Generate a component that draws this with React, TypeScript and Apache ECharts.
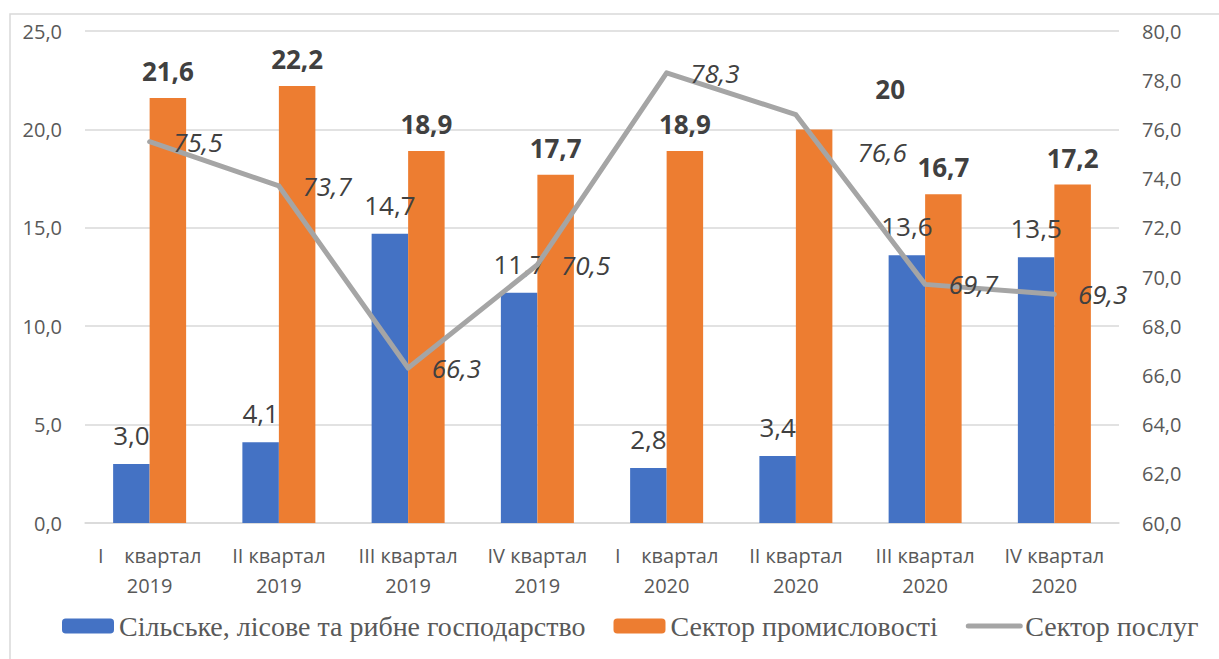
import React, { useEffect, useRef } from "react";
import * as echarts from "echarts";

const categories = [
  "I    квартал\n2019",
  "II квартал\n2019",
  "III квартал\n2019",
  "IV квартал\n2019",
  "I    квартал\n2020",
  "II квартал\n2020",
  "III квартал\n2020",
  "IV квартал\n2020",
];
const agriculture = [3.0, 4.1, 14.7, 11.7, 2.8, 3.4, 13.6, 13.5];
const industry = [21.6, 22.2, 18.9, 17.7, 18.9, 20, 16.7, 17.2];
const services = [75.5, 73.7, 66.3, 70.5, 78.3, 76.6, 69.7, 69.3];
const leftTicks = { min: 0, max: 25, interval: 5 };
const rightTicks = { min: 60, max: 80, interval: 2 };

const seriesNames = [
  "Сільське, лісове та рибне господарство",
  "Сектор промисловості",
  "Сектор послуг",
];

const SANS = "'Open Sans', 'Noto Sans', sans-serif";
const comma = (v: number, d?: number) =>
  (d === undefined ? String(v) : v.toFixed(d)).replace(".", ",");

export default function App() {
  const ref = useRef<HTMLDivElement>(null);
  useEffect(() => {
    if (!ref.current) return;
    const chart = echarts.init(ref.current, null, { renderer: "svg" });
    const labelColor = "#404040";
    chart.setOption({
      animation: false,
      backgroundColor: "#ffffff",
      graphic: [
        {
          type: "rect",
          shape: { x: 10, y: 14, width: 1300, height: 700 },
          style: { fill: "none", stroke: "#D9D9D9", lineWidth: 1.5 },
          silent: true,
        },
      ],
      grid: { left: 85, right: 100, top: 31, bottom: 136 },
      legend: {
        left: 57,
        top: 607,
        itemWidth: 52,
        itemHeight: 15,
        itemGap: 28,
        data: [
          { name: seriesNames[0] },
          { name: seriesNames[1] },
          {
            name: seriesNames[2],
            itemStyle: { opacity: 0 },
            lineStyle: { width: 5, color: "#A5A5A5" },
          },
        ],
        textStyle: {
          fontFamily: "'Liberation Serif', 'Times New Roman', serif",
          fontSize: 28,
          color: "#595959",
        },
      },
      xAxis: {
        type: "category",
        data: categories,
        axisTick: { show: false },
        axisLine: { lineStyle: { color: "#D9D9D9", width: 1.5 } },
        axisLabel: {
          interval: 0,
          margin: 17,
          fontFamily: SANS,
          fontSize: 20,
          lineHeight: 30,
          color: "#595959",
        },
      },
      yAxis: [
        {
          type: "value",
          min: leftTicks.min,
          max: leftTicks.max,
          interval: leftTicks.interval,
          axisLine: { show: false },
          axisTick: { show: false },
          splitLine: { lineStyle: { color: "#D9D9D9", width: 1.5 } },
          axisLabel: {
            margin: 23,
            fontFamily: SANS,
            fontSize: 20,
            color: "#595959",
            formatter: (v: number) => comma(v, 1),
          },
        },
        {
          type: "value",
          min: rightTicks.min,
          max: rightTicks.max,
          interval: rightTicks.interval,
          axisLine: { show: false },
          axisTick: { show: false },
          splitLine: { show: false },
          axisLabel: {
            margin: 23,
            fontFamily: SANS,
            fontSize: 20,
            color: "#595959",
            formatter: (v: number) => comma(v, 1),
          },
        },
      ],
      series: [
        {
          name: seriesNames[0],
          type: "bar",
          barWidth: 36.5,
          barGap: "0%",
          itemStyle: { color: "#4472C4" },
          data: agriculture,
          z: 2,
          label: {
            show: true,
            position: "top",
            distance: 16,
            fontFamily: SANS,
            fontSize: 26,
            color: labelColor,
            formatter: (p: any) => comma(p.value, 1),
          },
        },
        {
          name: seriesNames[1],
          type: "bar",
          barWidth: 36.5,
          barGap: "0%",
          itemStyle: { color: "#ED7D31" },
          z: 2,
          data: industry.map((v, i) =>
            i === 5 ? { value: v, label: { offset: [76, -13] } } : v
          ),
          label: {
            show: true,
            position: "top",
            distance: 14,
            fontFamily: SANS,
            fontSize: 26,
            fontWeight: "bold",
            color: labelColor,
            formatter: (p: any) => comma(p.value),
          },
        },
        {
          name: seriesNames[2],
          type: "line",
          yAxisIndex: 1,
          symbol: "circle",
          symbolSize: 1,
          showSymbol: true,
          z: 3,
          lineStyle: { color: "#A5A5A5", width: 5, cap: "round", join: "round" },
          itemStyle: { color: "#A5A5A5" },
          data: services.map((v, i) =>
            i === 5 ? { value: v, label: { offset: [38, 37] } } : v
          ),
          label: {
            show: true,
            position: "right",
            distance: 23,
            fontFamily: SANS,
            fontSize: 26,
            fontStyle: "italic",
            color: labelColor,
            formatter: (p: any) => comma(p.value, 1),
          },
        },
      ],
    });
    return () => chart.dispose();
  }, []);
  return (
    <div
      ref={ref}
      style={{ position: "absolute", left: 0, top: 0, width: 1219, height: 659 }}
    />
  );
}
